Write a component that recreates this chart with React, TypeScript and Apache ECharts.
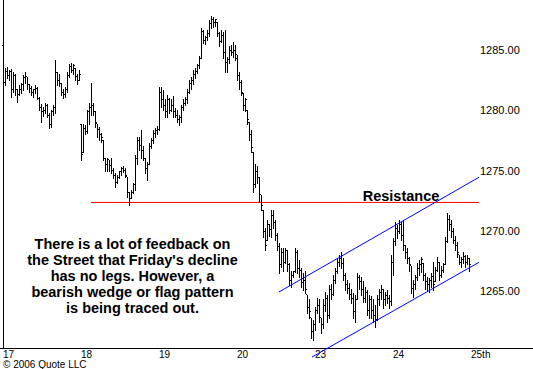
import React, { useEffect, useRef } from 'react';
import * as echarts from 'echarts';

// Day labels along the time axis (10-minute bars, 39 per session)
const dayLabels = ['17', '18', '19', '20', '23', '24', '25th'];
const barsPerDay = 39;

// OHLC bars: [open, high, low, close]
const day17: number[][] = [
  [1285.4, 1285.8, 1281.5, 1282.3], [1282.3, 1283.5, 1282.1, 1283.2], [1283.2, 1283.6, 1282.7, 1282.9],
  [1282.9, 1283.3, 1282.5, 1283.2], [1283.2, 1283.4, 1281.1, 1281.7], [1281.7, 1283.2, 1281.5, 1282.9],
  [1282.9, 1283.0, 1281.3, 1281.7], [1281.7, 1281.8, 1280.7, 1281.3], [1281.3, 1282.1, 1281.3, 1281.7],
  [1281.7, 1282.3, 1281.4, 1282.1], [1282.1, 1282.9, 1281.7, 1282.7], [1282.7, 1283.2, 1282.3, 1282.8],
  [1282.8, 1282.8, 1281.8, 1282.1], [1282.1, 1282.2, 1281.5, 1281.8], [1281.8, 1282.0, 1281.3, 1281.5],
  [1281.5, 1281.8, 1281.1, 1281.7], [1281.7, 1282.1, 1281.4, 1281.8], [1281.8, 1281.9, 1280.9, 1281.0],
  [1281.0, 1281.1, 1280.0, 1280.2], [1280.2, 1280.5, 1279.0, 1279.9], [1279.9, 1280.3, 1279.5, 1280.0],
  [1280.0, 1280.6, 1279.8, 1280.4], [1280.4, 1280.5, 1279.4, 1279.6], [1279.6, 1279.8, 1278.5, 1278.8],
  [1278.8, 1280.0, 1278.6, 1279.9], [1279.9, 1280.4, 1279.6, 1280.2], [1280.2, 1284.2, 1279.8, 1283.1],
  [1283.1, 1283.2, 1282.1, 1282.5], [1282.5, 1283.0, 1282.0, 1282.2], [1282.2, 1282.3, 1281.3, 1281.5],
  [1281.5, 1281.8, 1281.0, 1281.3], [1281.3, 1281.9, 1281.1, 1281.7], [1281.7, 1283.2, 1281.5, 1282.9],
  [1282.9, 1283.8, 1282.8, 1283.6], [1283.6, 1283.9, 1283.2, 1283.3], [1283.3, 1283.8, 1283.0, 1283.7],
  [1283.5, 1283.5, 1282.5, 1282.8], [1282.8, 1283.0, 1282.2, 1282.5], [1282.5, 1283.3, 1282.5, 1283.0],
];
const day18: number[][] = [
  [1278.8, 1278.9, 1275.9, 1276.3], [1276.5, 1278.9, 1276.5, 1278.5], [1278.5, 1278.8, 1278.0, 1278.2],
  [1278.2, 1280.0, 1278.1, 1279.9], [1279.9, 1280.6, 1278.9, 1280.2], [1280.2, 1282.3, 1279.6, 1280.4],
  [1280.4, 1280.6, 1279.6, 1279.9], [1279.9, 1279.9, 1278.6, 1279.0], [1278.9, 1278.9, 1277.8, 1278.4],
  [1278.4, 1278.6, 1277.5, 1278.0], [1278.0, 1278.1, 1277.4, 1277.7], [1277.5, 1277.5, 1275.9, 1276.0],
  [1276.0, 1276.0, 1275.0, 1275.5], [1275.5, 1276.0, 1275.0, 1275.9], [1275.9, 1275.9, 1275.0, 1275.4],
  [1275.4, 1276.0, 1274.8, 1275.0], [1275.0, 1275.2, 1274.4, 1274.6], [1274.6, 1274.8, 1273.6, 1274.0],
  [1274.0, 1274.6, 1274.0, 1274.4], [1274.4, 1275.0, 1274.4, 1274.9], [1274.9, 1275.3, 1274.6, 1275.2],
  [1275.2, 1275.4, 1274.9, 1275.0], [1275.0, 1275.2, 1274.5, 1274.6], [1274.5, 1274.5, 1272.8, 1273.2],
  [1273.2, 1273.2, 1272.1, 1272.7], [1272.7, 1273.4, 1272.7, 1273.2], [1273.2, 1274.0, 1273.1, 1273.8],
  [1273.8, 1276.3, 1273.4, 1276.0], [1276.0, 1277.8, 1275.5, 1277.5], [1277.5, 1277.8, 1276.7, 1277.1],
  [1277.1, 1278.4, 1276.0, 1276.7], [1276.7, 1277.0, 1275.9, 1276.0], [1276.0, 1276.0, 1274.8, 1275.2],
  [1275.2, 1275.7, 1274.2, 1275.5], [1275.5, 1277.3, 1275.5, 1277.0], [1277.0, 1277.7, 1276.9, 1277.5],
  [1277.5, 1278.4, 1277.3, 1278.1], [1278.1, 1278.5, 1277.8, 1278.3], [1278.3, 1278.7, 1278.0, 1278.4],
];
const day19: number[][] = [
  [1278.4, 1281.9, 1278.4, 1281.5], [1281.5, 1281.9, 1280.3, 1280.9], [1280.9, 1281.7, 1280.0, 1280.4],
  [1280.4, 1280.9, 1279.4, 1279.9], [1279.9, 1281.3, 1279.4, 1280.9], [1280.9, 1281.0, 1279.8, 1280.0],
  [1280.0, 1280.9, 1279.9, 1280.4], [1280.4, 1281.2, 1279.4, 1279.9], [1279.9, 1280.2, 1279.4, 1279.6],
  [1279.6, 1280.0, 1279.0, 1279.2], [1279.2, 1279.6, 1278.8, 1279.4], [1279.4, 1280.4, 1279.0, 1280.2],
  [1280.2, 1280.9, 1280.0, 1280.6], [1280.6, 1281.1, 1280.4, 1280.9], [1280.9, 1281.8, 1280.6, 1281.5],
  [1281.5, 1282.5, 1281.4, 1282.2], [1282.2, 1282.8, 1281.8, 1282.5], [1282.5, 1283.3, 1282.2, 1283.0],
  [1283.0, 1283.5, 1282.7, 1283.2], [1283.2, 1283.8, 1283.1, 1283.7], [1283.7, 1284.5, 1283.5, 1284.3],
  [1284.3, 1286.8, 1284.3, 1286.5], [1286.5, 1286.7, 1285.6, 1285.8], [1285.8, 1286.2, 1285.5, 1286.0],
  [1286.0, 1286.7, 1285.8, 1286.4], [1286.4, 1287.5, 1286.2, 1287.2], [1287.2, 1287.8, 1286.8, 1287.5],
  [1287.5, 1287.7, 1286.9, 1287.3], [1287.3, 1287.6, 1287.0, 1287.5], [1287.3, 1287.3, 1286.2, 1286.4],
  [1286.4, 1286.5, 1285.3, 1285.7], [1285.7, 1286.7, 1285.7, 1286.2], [1286.2, 1286.5, 1284.3, 1284.8],
  [1284.8, 1286.7, 1283.2, 1284.0], [1284.0, 1284.4, 1283.2, 1284.2], [1284.2, 1285.3, 1283.9, 1285.0],
  [1285.0, 1285.4, 1284.6, 1284.8], [1284.8, 1285.7, 1284.4, 1285.0], [1285.0, 1285.4, 1284.2, 1284.6],
];
const day20: number[][] = [
  [1284.3, 1284.6, 1282.5, 1282.9], [1282.9, 1283.2, 1281.8, 1282.3], [1282.3, 1282.5, 1281.3, 1281.5],
  [1281.4, 1281.4, 1280.0, 1280.4], [1280.4, 1281.0, 1279.9, 1280.9], [1280.0, 1280.0, 1278.9, 1279.2],
  [1279.0, 1279.0, 1277.5, 1278.0], [1278.0, 1278.4, 1276.5, 1276.9], [1276.5, 1276.5, 1273.2, 1273.8],
  [1273.8, 1275.5, 1273.6, 1274.9], [1274.9, 1275.4, 1274.0, 1274.4], [1274.4, 1274.5, 1272.4, 1273.0],
  [1273.0, 1273.0, 1271.7, 1272.1], [1271.7, 1271.7, 1269.5, 1269.9], [1269.9, 1270.2, 1268.4, 1268.8],
  [1269.2, 1270.9, 1269.2, 1270.5], [1270.5, 1270.6, 1269.6, 1270.1], [1270.1, 1271.7, 1269.5, 1271.3],
  [1271.3, 1271.7, 1270.2, 1270.7], [1270.7, 1270.9, 1269.2, 1269.6], [1269.6, 1269.8, 1268.4, 1268.7],
  [1268.7, 1269.0, 1266.5, 1267.2], [1267.2, 1268.6, 1267.0, 1268.2], [1268.2, 1268.6, 1266.7, 1267.4],
  [1267.4, 1268.6, 1267.3, 1268.4], [1268.4, 1268.4, 1266.7, 1267.2], [1267.2, 1267.3, 1265.5, 1265.9],
  [1265.9, 1266.7, 1265.3, 1266.3], [1266.3, 1266.7, 1266.2, 1266.6], [1266.6, 1268.6, 1266.6, 1268.2],
  [1268.2, 1268.4, 1266.5, 1266.9], [1266.9, 1267.6, 1266.2, 1266.7], [1266.7, 1266.9, 1265.3, 1265.7],
  [1265.7, 1266.5, 1265.1, 1265.9], [1265.9, 1266.7, 1264.8, 1265.1], [1264.7, 1264.7, 1263.2, 1263.6],
  [1263.6, 1264.3, 1262.8, 1263.3], [1262.8, 1262.8, 1261.1, 1261.6], [1261.6, 1262.6, 1260.9, 1262.2],
];
const day23: number[][] = [
  [1262.2, 1263.7, 1261.8, 1263.4], [1263.4, 1264.4, 1263.2, 1263.8], [1263.8, 1264.3, 1262.4, 1262.8],
  [1262.8, 1262.8, 1261.5, 1262.2], [1262.2, 1264.3, 1261.9, 1263.8], [1263.8, 1264.9, 1263.3, 1264.4],
  [1264.4, 1264.7, 1262.4, 1263.0], [1263.0, 1265.5, 1262.8, 1265.1], [1265.1, 1265.6, 1264.3, 1264.7],
  [1264.7, 1266.3, 1264.7, 1265.9], [1265.9, 1266.9, 1265.7, 1266.6], [1266.6, 1267.7, 1266.5, 1267.4],
  [1267.4, 1268.0, 1267.1, 1267.7], [1267.7, 1268.2, 1266.9, 1267.3], [1267.3, 1267.7, 1265.9, 1266.3],
  [1266.3, 1266.5, 1265.1, 1265.5], [1265.5, 1265.9, 1264.8, 1265.2], [1265.2, 1265.7, 1264.3, 1264.7],
  [1264.7, 1265.2, 1264.0, 1264.4], [1264.4, 1264.8, 1262.8, 1263.3], [1263.3, 1264.7, 1262.4, 1264.3],
  [1264.3, 1266.5, 1264.3, 1266.1], [1266.1, 1266.3, 1265.2, 1265.8], [1265.8, 1266.2, 1264.7, 1265.1],
  [1265.1, 1265.8, 1264.1, 1264.4], [1264.4, 1265.3, 1264.1, 1264.9], [1264.9, 1265.1, 1263.0, 1263.4],
  [1263.4, 1264.7, 1262.8, 1264.3], [1264.3, 1264.6, 1262.8, 1263.4], [1263.4, 1264.3, 1262.4, 1263.0],
  [1263.0, 1263.8, 1262.0, 1262.6], [1262.6, 1264.7, 1262.6, 1264.3], [1264.3, 1265.2, 1263.8, 1264.9],
  [1264.9, 1265.5, 1264.3, 1265.1], [1265.1, 1265.2, 1263.6, 1264.3], [1264.3, 1264.9, 1263.8, 1264.6],
  [1264.6, 1265.1, 1264.0, 1264.4], [1264.4, 1264.7, 1263.6, 1264.1], [1264.1, 1268.0, 1263.8, 1267.4],
];
const day24: number[][] = [
  [1267.4, 1269.4, 1266.3, 1269.1], [1269.1, 1270.7, 1268.8, 1270.2], [1270.2, 1270.5, 1269.4, 1269.9],
  [1269.9, 1270.9, 1269.8, 1270.5], [1270.5, 1270.7, 1269.2, 1269.6], [1269.6, 1270.9, 1268.4, 1268.8],
  [1268.8, 1268.8, 1267.7, 1268.2], [1268.2, 1268.6, 1267.3, 1267.7], [1267.7, 1267.8, 1266.7, 1267.2],
  [1267.1, 1267.1, 1264.8, 1265.2], [1265.2, 1265.9, 1264.5, 1265.5], [1265.5, 1266.3, 1265.2, 1266.1],
  [1266.1, 1267.3, 1265.9, 1266.9], [1266.9, 1267.6, 1266.3, 1267.2], [1267.2, 1267.8, 1266.6, 1267.6],
  [1267.3, 1267.3, 1265.9, 1266.3], [1266.3, 1266.5, 1265.2, 1265.8], [1265.8, 1266.2, 1265.1, 1265.5],
  [1265.5, 1266.1, 1264.9, 1265.9], [1265.9, 1266.5, 1265.3, 1266.2], [1266.2, 1267.4, 1265.1, 1265.5],
  [1265.8, 1267.0, 1265.8, 1266.7], [1266.7, 1267.8, 1266.7, 1267.4], [1267.4, 1267.4, 1265.9, 1266.3],
  [1266.3, 1267.1, 1266.2, 1266.7], [1266.7, 1267.3, 1266.6, 1267.2], [1267.2, 1269.5, 1267.2, 1269.1],
  [1269.1, 1271.5, 1269.1, 1270.9], [1270.9, 1271.3, 1270.1, 1270.5], [1270.5, 1270.9, 1269.5, 1269.9],
  [1269.9, 1270.2, 1269.0, 1269.2], [1269.2, 1269.6, 1268.4, 1268.8], [1268.8, 1269.1, 1267.8, 1268.2],
  [1268.0, 1268.0, 1267.2, 1267.4], [1267.4, 1267.8, 1267.0, 1267.6], [1267.6, 1268.2, 1267.3, 1267.9],
  [1267.9, 1268.0, 1267.0, 1267.4], [1267.4, 1268.0, 1267.2, 1267.7], [1267.7, 1267.7, 1266.7, 1267.2],
];

// Price axis tick labels
const priceTicks = [1265, 1270, 1275, 1280, 1285];

// Annotation lines (bar index, price)
const resistanceLevel = 1272.35;
const resistanceSpan = [44, 240];
const upperTrend = [[138, 1264.92], [240, 1274.63]];
const lowerTrend = [[154.5, 1259.52], [240, 1267.57]];

const noteLines = [
  'There is a lot of feedback on',
  "the Street that Friday's decline",
  'has no legs. However, a',
  'bearish wedge or flag pattern',
  'is being traced out.',
];

const FONT = '"Liberation Sans", Arial, Helvetica, sans-serif';

export default function App() {
  const ref = useRef<HTMLDivElement>(null);

  useEffect(() => {
    if (!ref.current) return;
    const chart = echarts.init(ref.current, null, { renderer: 'svg' });
    const bars = [...day17, ...day18, ...day19, ...day20, ...day23, ...day24];
    const data = bars.map((b, i) => [i, b[0], b[1], b[2], b[3]]);
    const dayStarts = dayLabels.map((_, k) => k * barsPerDay);

    const renderItem = (params: any, api: any) => {
      const x = api.value(0);
      const pO = api.coord([x, api.value(1)]);
      const pH = api.coord([x, api.value(2)]);
      const pL = api.coord([x, api.value(3)]);
      const pC = api.coord([x, api.value(4)]);
      const px = Math.round(pH[0]) + 0.5;
      const yo = Math.floor(pO[1]) + 0.5;
      const yc = Math.floor(pC[1]) + 0.5;
      const style = { stroke: '#000', lineWidth: 1 };
      return {
        type: 'group',
        children: [
          { type: 'line', shape: { x1: px, y1: Math.round(pH[1]), x2: px, y2: Math.round(pL[1]) + 1 }, style },
          { type: 'line', shape: { x1: px - 1.5, y1: yo, x2: px - 0.5, y2: yo }, style },
          { type: 'line', shape: { x1: px + 0.5, y1: yc, x2: px + 1.5, y2: yc }, style },
        ],
      };
    };

    chart.setOption({
      animation: false,
      backgroundColor: '#ffffff',
      grid: { left: 0, top: 0, width: 478, height: 348 },
      xAxis: {
        type: 'value',
        min: -1.5,
        max: 237.5,
        axisLine: { show: false },
        axisTick: { show: false },
        splitLine: { show: false },
        axisLabel: {
          customValues: dayStarts,
          formatter: (v: number) => {
            const k = dayStarts.indexOf(v);
            return k >= 0 ? dayLabels[k] : '';
          },
          align: 'left',
          margin: 1,
          lineHeight: 10,
          color: '#000',
          fontSize: 10,
          fontFamily: FONT,
        },
      },
      yAxis: {
        type: 'value',
        position: 'right',
        min: 1260.27,
        max: 1289.15,
        axisLine: { show: true, lineStyle: { color: '#000', width: 1 } },
        axisTick: { show: false },
        splitLine: { show: false },
        axisLabel: {
          customValues: priceTicks,
          formatter: (v: number) => v.toFixed(2),
          margin: 2,
          color: '#000',
          fontSize: 11,
          fontFamily: FONT,
        },
      },
      series: [
        {
          type: 'line',
          data: resistanceSpan.map((x) => [x, resistanceLevel]),
          symbol: 'none',
          clip: false,
          silent: true,
          lineStyle: { color: '#ff0000', width: 1 },
          z: 1,
        },
        {
          type: 'line',
          data: upperTrend,
          symbol: 'none',
          clip: false,
          silent: true,
          lineStyle: { color: '#0000ff', width: 1 },
          z: 3,
        },
        {
          type: 'line',
          data: lowerTrend,
          symbol: 'none',
          clip: false,
          silent: true,
          lineStyle: { color: '#0000ff', width: 1 },
          z: 3,
        },
        {
          type: 'custom',
          renderItem,
          data,
          encode: { x: 0, y: [2, 3] },
          silent: true,
          z: 2,
        },
      ],
      graphic: [
        {
          type: 'line',
          shape: { x1: 0, y1: 348.5, x2: 533, y2: 348.5 },
          style: { stroke: '#000', lineWidth: 1 },
          silent: true,
        },
        {
          type: 'text',
          x: 401,
          y: 195.5,
          style: {
            text: 'Resistance',
            fill: '#000',
            fontSize: 14.5,
            fontWeight: 'bold',
            fontFamily: FONT,
            align: 'center',
            verticalAlign: 'middle',
          },
          silent: true,
        },
        {
          type: 'text',
          x: 132.5,
          y: 276,
          style: {
            text: noteLines.join('\n'),
            fill: '#000',
            fontSize: 14.5,
            fontWeight: 'bold',
            fontFamily: FONT,
            lineHeight: 16,
            align: 'center',
            verticalAlign: 'middle',
          },
          silent: true,
        },
        {
          type: 'text',
          x: 3,
          y: 364,
          style: {
            text: '© 2006 Quote LLC',
            fill: '#000',
            fontSize: 10,
            lineHeight: 8,
            fontFamily: FONT,
            align: 'left',
            verticalAlign: 'middle',
          },
          silent: true,
        },
      ],
    });

    return () => chart.dispose();
  }, []);

  return (
    <div
      ref={ref}
      style={{ position: 'absolute', left: 0, top: 0, width: 533, height: 369, background: '#fff' }}
    />
  );
}
